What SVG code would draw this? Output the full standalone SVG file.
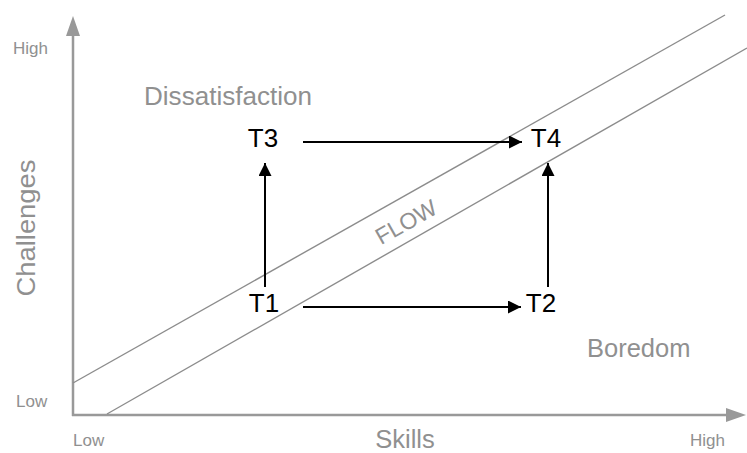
<svg xmlns="http://www.w3.org/2000/svg" width="747" height="453" viewBox="0 0 747 453">
<defs>
<marker id="ah" viewBox="0 0 10 10" refX="10" refY="5" markerWidth="10" markerHeight="6.5" markerUnits="strokeWidth" orient="auto"><path d="M0,0 L10,5 L0,10 z" fill="#000"/></marker>
<style>
.lbl{font-family:"Liberation Sans",Arial,sans-serif;fill:#909090}
.sm{font-size:17px}
.big{font-size:25.5px}
.node{font-family:"Liberation Sans",Arial,sans-serif;font-size:26px;fill:#000}
.conn{stroke:#000;stroke-width:2;fill:none;marker-end:url(#ah)}
.diag{stroke:#8c8c8c;stroke-width:1.4;fill:none}
</style>
</defs>
<rect width="747" height="453" fill="#fff"/>
<g id="axes">
<line x1="73" y1="416" x2="73" y2="34" stroke="#999" stroke-width="2.5"/>
<path d="M66,36 L73,16 L80,36 z" fill="#999"/>
<line x1="72" y1="415" x2="728" y2="415" stroke="#999" stroke-width="2.5"/>
<path d="M726,408 L746,415 L726,422 z" fill="#999"/>
</g>
<g id="flow-band">
<line class="diag" x1="73" y1="383" x2="725" y2="15"/>
<line class="diag" x1="107" y1="414" x2="747" y2="48"/>
<text class="lbl" x="0" y="0" font-size="23" text-anchor="middle" transform="translate(410 229) rotate(-29.5)">FLOW</text>
</g>
<g id="labels">
<text class="lbl sm" x="13" y="54">High</text>
<text class="lbl sm" x="16" y="407">Low</text>
<text class="lbl sm" x="73" y="446">Low</text>
<text class="lbl sm" x="690" y="446">High</text>
<text class="lbl big" x="405" y="448" text-anchor="middle">Skills</text>
<text class="lbl big" x="0" y="0" text-anchor="middle" transform="translate(35 228) rotate(-90)" textLength="137" lengthAdjust="spacingAndGlyphs">Challenges</text>
<text class="lbl big" x="144" y="105" textLength="168" lengthAdjust="spacingAndGlyphs">Dissatisfaction</text>
<text class="lbl big" x="587" y="357">Boredom</text>
</g>
<g id="T1"><text class="node" x="264" y="312" text-anchor="middle">T1</text></g>
<g id="T2"><text class="node" x="541" y="312" text-anchor="middle">T2</text></g>
<g id="T3"><text class="node" x="263" y="147" text-anchor="middle">T3</text></g>
<g id="T4"><text class="node" x="546" y="147" text-anchor="middle">T4</text></g>
<g id="connectors">
<line class="conn" x1="303" y1="142" x2="522" y2="142"/>
<line class="conn" x1="303" y1="307" x2="521" y2="307"/>
<line class="conn" x1="265" y1="287" x2="265" y2="163"/>
<line class="conn" x1="548" y1="287" x2="548" y2="163"/>
</g>
</svg>
